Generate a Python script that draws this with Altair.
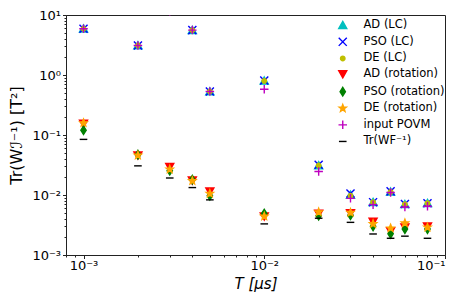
import altair as alt
import pandas as pd
import numpy as np

# ---- data ----
T = [1e-3, 2e-3, 3e-3, 4e-3, 5e-3, 1e-2, 2e-2, 3e-2, 4e-2, 5e-2, 6e-2, 8e-2]
ad_lc = [5.9, 3.1, 20.0, 5.6, 0.53, 0.80, 0.031, 0.0100, 0.0076, 0.0113, 0.0070, 0.0073]
pso_lc = [5.9, 3.1, 20.0, 5.6, 0.53, 0.81, 0.032, 0.0106, 0.0076, 0.0115, 0.0071, 0.0073]
de_lc = [5.9, 3.1, 20.0, 5.6, 0.53, 0.80, 0.031, 0.0097, 0.0076, 0.0113, 0.0070, 0.0073]
ad_rot = [0.155, 0.046, 0.0294, 0.0175, 0.0115, 0.0044, 0.0049, 0.0050, 0.0036, 0.0025, 0.0029, 0.0030]
pso_rot = [0.120, 0.047, 0.0253, 0.0180, 0.0097, 0.0049, 0.0045, 0.0046, 0.0030, 0.00225, 0.0027, 0.0027]
de_rot = [0.159, 0.046, 0.0269, 0.0172, 0.0106, 0.0044, 0.0052, 0.0051, 0.0033, 0.0028, 0.0034, 0.0029]
povm = [5.9, 3.1, 11.5, 5.6, 0.53, 0.58, 0.0247, 0.0088, 0.0069, 0.0110, 0.0063, 0.0065]
tr_wf = [0.0845, 0.0306, 0.0192, 0.0133, 0.0083, 0.0033, 0.0041, 0.0035, 0.00224, 0.0019, 0.00206, 0.0019]

series_names = ["AD (LC)", "PSO (LC)", "DE (LC)", "AD (rotation)", "PSO (rotation)",
                "DE (rotation)", "input POVM", "Tr(WF⁻¹)"]
series_values = [ad_lc, pso_lc, de_lc, ad_rot, pso_rot, de_rot, povm, tr_wf]
stroke_colors = ["#00bfbf", "#0000ff", "#bfbf00", "#ff0000", "#008000", "#ffa500", "#bf00bf", "#000000"]
fill_colors = ["#00bfbf", "transparent", "#bfbf00", "#ff0000", "#008000", "#ffa500", "transparent", "transparent"]

x_major = [1e-3, 1e-2, 1e-1]
y_major = [1e-3, 1e-2, 1e-1, 1e0, 1e1]
x_minor = [m * d for d in [1e-4, 1e-3, 1e-2] for m in range(2, 10)]
y_minor = [m * d for d in [1e-3, 1e-2, 1e-1, 1e0] for m in range(2, 10)]

# ---- marker shapes (paths) ----
ang = np.arange(10) * np.pi / 5 - np.pi / 2
rad = np.where(np.arange(10) % 2 == 0, 0.85, 0.36)
star = "M" + "L".join(f"{r*np.cos(a):.3f},{r*np.sin(a):.3f}" for r, a in zip(rad, ang)) + "Z"
shapes = [
    "M0,-0.85L0.9,0.75L-0.9,0.75Z",
    "M-0.9,-0.9L0.9,0.9M-0.9,0.9L0.9,-0.9",
    "M0.5,0A0.5,0.5 0 1,1 -0.5,0A0.5,0.5 0 1,1 0.5,0Z",
    "M0,0.85L0.9,-0.75L-0.9,-0.75Z",
    "M0,-0.95L0.6,0L0,0.95L-0.6,0Z",
    star,
    "M-0.95,0L0.95,0M0,-0.95L0,0.95",
    "M-0.85,0L0.85,0",
]

rows = []
for name, vals in zip(series_names, series_values):
    for t, v in zip(T, vals):
        rows.append({"T": t, "val": v, "series": name})
df = pd.DataFrame(rows)

font = "DejaVu Sans"
xscale = alt.Scale(type="log", domain=[8e-4, 0.1], nice=False)
yscale = alt.Scale(type="log", domain=[1e-3, 10], nice=False)

x_lab = "datum.value < 0.005 ? '10⁻³' : datum.value < 0.05 ? '10⁻²' : '10⁻¹'"
y_lab = ("datum.value < 0.005 ? '10⁻³' : datum.value < 0.05 ? '10⁻²' : "
         "datum.value < 0.5 ? '10⁻¹' : datum.value < 5 ? '10⁰' : '10¹'")

points = alt.Chart(df).mark_point(filled=True, opacity=1, size=80, strokeWidth=1.4, clip=True).encode(
    x=alt.X("T:Q", scale=xscale,
            axis=alt.Axis(orient="bottom", values=x_major, labelExpr=x_lab, title="T [μs]",
                          tickSize=3.5, labelPadding=1, titlePadding=4, titleFontSize=15,
                          titleFontStyle="italic", grid=False)),
    y=alt.Y("val:Q", scale=yscale,
            axis=alt.Axis(orient="left", values=y_major, labelExpr=y_lab, title="Tr(Wℐ⁻¹) [T²]",
                          tickSize=3.5, labelPadding=2, titlePadding=7, titleFontSize=16, grid=False)),
    fill=alt.Fill("series:N", scale=alt.Scale(domain=series_names, range=fill_colors),
                  sort=series_names,
                  legend=alt.Legend(title=None, orient="none", legendX=271, legendY=4.5,
                                    padding=0, labelFontSize=11.5, labelFont=font,
                                    labelOffset=15, rowPadding=2.6, symbolStrokeWidth=1.4,
                                    symbolSize=80, labelColor="black", fillColor="white")),
    stroke=alt.Stroke("series:N", scale=alt.Scale(domain=series_names, range=stroke_colors),
                      sort=series_names),
    shape=alt.Shape("series:N", scale=alt.Scale(domain=series_names, range=shapes),
                    sort=series_names),
    order=alt.Order("ord:Q"),
).transform_calculate(ord="indexof(" + str(series_names).replace("'", '"') + ", datum.series)")

minor = alt.Chart(df).mark_point(opacity=0, size=1).encode(
    x=alt.X("T:Q", scale=xscale,
            axis=alt.Axis(orient="bottom", values=x_minor, labels=False, tickSize=2,
                          domain=False, title=None, grid=False)),
    y=alt.Y("val:Q", scale=yscale,
            axis=alt.Axis(orient="left", values=y_minor, labels=False, tickSize=2,
                          domain=False, title=None, grid=False)),
)

chart = alt.layer(points, minor).resolve_axis(x="independent", y="independent").properties(
    width=379, height=240,
    autosize=alt.AutoSizeParams(type="none"),
    padding={"left": 58, "top": 7, "right": 10, "bottom": 45},
    background="white",
).configure_axis(
    labelFont=font, titleFont=font, labelFontSize=13,
    titleFontWeight="normal", labelColor="black", titleColor="black",
    domainColor="#222", tickColor="#222", domainWidth=1, tickWidth=1,
).configure_view(stroke="#222", strokeWidth=1)

chart.save("out.html", embed_options={"renderer": "svg", "actions": False})
